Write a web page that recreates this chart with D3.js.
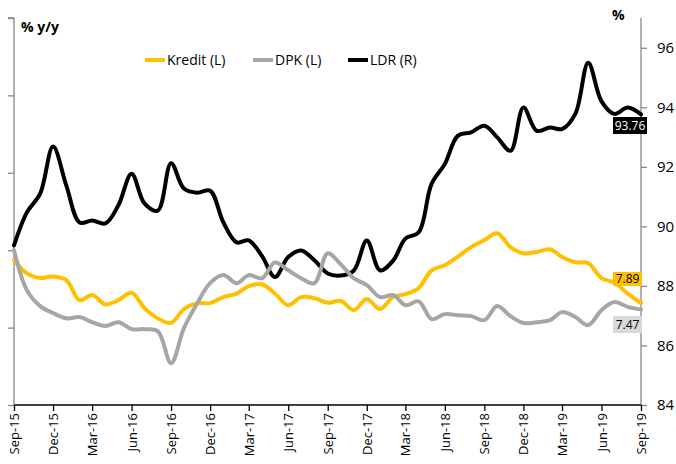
<!DOCTYPE html>
<html>
<head>
<meta charset="utf-8">
<script src="https://cdn.jsdelivr.net/npm/d3@7"></script>
<style>
  body { margin: 0; background: #fff; }
  text { font-family: "Open Sans", "Noto Sans", sans-serif; }
</style>
</head>
<body>
<div id="chart"></div>
<script>
// monthly, Sep-15 .. Sep-19
const months = d3.range(49).map(i => new Date(2015, 8 + i, 1));
const tickLabels = ["Sep-15","Dec-15","Mar-16","Jun-16","Sep-16","Dec-16","Mar-17","Jun-17","Sep-17",
  "Dec-17","Mar-18","Jun-18","Sep-18","Dec-18","Mar-19","Jun-19","Sep-19"];

const kredit = [10.65,9.8,9.5,9.6,9.36,8.07,8.4,7.8,8.07,8.55,7.56,6.9,6.6,7.5,7.88,7.88,8.27,8.5,8.98,9.1,
  8.5,7.75,8.27,8.2,7.9,8.03,7.43,8.14,7.5,8.29,8.46,8.85,10.0,10.33,10.87,11.5,11.95,12.4,11.5,11.1,
  11.19,11.36,10.87,10.52,10.46,9.5,9.2,8.5,7.89];
const dpk = [11.3,8.72,7.69,7.24,6.9,6.98,6.65,6.4,6.65,6.2,6.2,6.07,4.0,6.27,7.88,9.17,9.69,9.17,9.69,9.49,
  10.5,10.0,9.49,9.17,11.1,10.4,9.49,9.04,8.27,8.4,7.75,8.0,6.85,7.17,7.1,7.04,6.78,7.69,7.04,6.6,
  6.65,6.78,7.3,6.98,6.46,7.43,7.95,7.64,7.47];
const ldr = [89.36,90.47,91.1,92.68,91.37,90.13,90.2,90.1,90.7,91.77,90.77,90.53,92.12,91.27,91.13,91.2,
  90.13,89.46,89.53,89.0,88.3,88.97,89.19,88.86,88.42,88.35,88.52,89.53,88.52,88.86,89.59,89.8,91.43,
  92.1,93.04,93.16,93.38,92.99,92.54,93.99,93.21,93.32,93.27,93.78,95.5,94.2,93.78,93.99,93.76];

const W = 676, H = 464;
const m = { left: 14, right: 641, top: 18, bottom: 405 };

const svg = d3.select("#chart").append("svg")
  .attr("width", W).attr("height", H);

const x = d3.scaleTime().domain([months[0], months[48]]).range([m.left, m.right]);
const yL = d3.scaleLinear().domain([1.3, 26.3]).range([m.bottom, m.top]);
const yR = d3.scaleLinear().domain([84, 97]).range([m.bottom, m.top]);

// left axis (no labels)
const gL = svg.append("g").attr("transform", `translate(${m.left},0)`)
  .call(d3.axisLeft(yL).tickValues(d3.range(6).map(k => 1.3 + 5 * k)).tickSize(6).tickFormat(""));
gL.selectAll("path, line").attr("stroke", "#888").attr("stroke-width", 1.3);
gL.select(".domain").attr("d", `M-6,${m.top}H0V${m.bottom}`);

// right axis
const gR = svg.append("g").attr("transform", `translate(${m.right},0)`)
  .call(d3.axisRight(yR).tickValues(d3.range(84, 97, 2)).tickSize(6).tickPadding(10));
gR.selectAll("path, line").attr("stroke", "#888").attr("stroke-width", 1.3);
gR.select(".domain").attr("d", `M0,${m.top}V${m.bottom}`);
gR.selectAll("text").attr("font-size", 15).attr("fill", "#000")
  .style("font-family", "'Open Sans', sans-serif");

// x axis
const qTicks = months.filter((d, i) => i % 3 === 0);
const gX = svg.append("g").attr("transform", `translate(0,${m.bottom})`)
  .call(d3.axisBottom(x).tickValues(qTicks).tickSize(6)
    .tickFormat((d, i) => tickLabels[i]));
gX.selectAll("path, line").attr("stroke", "#000").attr("stroke-width", 1.3);
gX.select(".domain").attr("d", `M${m.left},0H${m.right}`);
gX.selectAll("text")
  .attr("font-size", 13).attr("fill", "#000")
  .attr("transform", "rotate(-90)")
  .attr("text-anchor", "end")
  .attr("x", -8).attr("y", 0).attr("dy", "0.35em");

// lines
const series = [
  { name: "Kredit (L)", values: kredit, y: yL, color: "#FFC000" },
  { name: "DPK (L)", values: dpk, y: yL, color: "#A6A6A6" },
  { name: "LDR (R)", values: ldr, y: yR, color: "#000000" }
];
const plotOrder = [series[2], series[0], series[1]];
plotOrder.forEach(s => {
  const line = d3.line().x((d, i) => x(months[i])).y(d => s.y(d)).curve(d3.curveCatmullRom);
  svg.append("path").datum(s.values)
    .attr("fill", "none").attr("stroke", s.color)
    .attr("stroke-width", 4).attr("stroke-linejoin", "round").attr("stroke-linecap", "round")
    .attr("d", line);
});

// titles
svg.append("text").attr("x", 21).attr("y", 32).attr("font-size", 14).attr("font-weight", "bold").text("% y/y");
svg.append("text").attr("x", 612).attr("y", 20).attr("font-size", 14).attr("font-weight", "bold").text("%");

// legend
const legendX = [145, 253, 348];
series.forEach((s, i) => {
  const g = svg.append("g").attr("transform", `translate(${legendX[i]},60)`);
  g.append("line").attr("x1", 0).attr("x2", 20).attr("y1", 0).attr("y2", 0)
    .attr("stroke", s.color).attr("stroke-width", 4);
  g.append("text").attr("x", 22).attr("y", 5).attr("font-size", 14).attr("fill", "#000").text(s.name);
});

// end labels
const endLabels = [
  { text: "93.76", x0: 613, y0: 117, w: 34, h: 17, bg: "#000", fg: "#fff" },
  { text: "7.89", x0: 613, y0: 272, w: 29, h: 14, bg: "#FFC000", fg: "#000" },
  { text: "7.47", x0: 613, y0: 316, w: 29, h: 17, bg: "#D9D9D9", fg: "#000" }
];
endLabels.forEach(l => {
  svg.append("rect").attr("x", l.x0).attr("y", l.y0).attr("width", l.w).attr("height", l.h).attr("fill", l.bg);
  svg.append("text").attr("x", l.x0 + l.w / 2).attr("y", l.y0 + l.h / 2).attr("dy", "0.35em")
    .attr("text-anchor", "middle").attr("font-size", 12).attr("fill", l.fg).text(l.text);
});
</script>
</body>
</html>
